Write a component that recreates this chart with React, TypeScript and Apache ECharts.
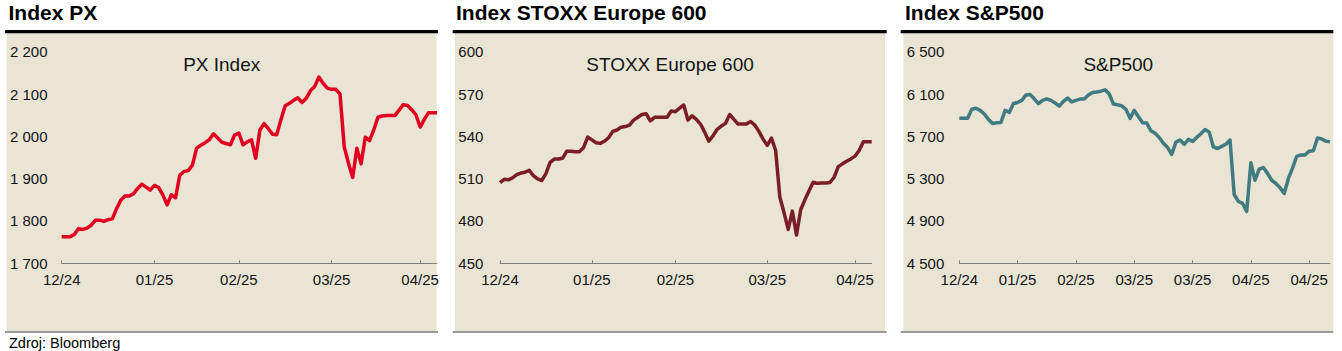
import React, { useEffect, useRef } from "react";
import * as echarts from "echarts";

// ---- data ----
const days = Array.from({ length: 90 }, (_, i) => String(i));

const pxValues = [
  1763, 1763, 1763, 1768, 1782, 1780, 1783, 1790, 1802, 1802,
  1799, 1803, 1805, 1829, 1849, 1859, 1859, 1864, 1877, 1887,
  1880, 1873, 1884, 1879, 1861, 1838, 1862, 1855, 1908, 1917,
  1919, 1932, 1972, 1979, 1985, 1992, 2006, 1996, 1986, 1983,
  1980, 2003, 2008, 1980, 1987, 1992, 1948, 2015, 2030, 2018,
  2005, 2004, 2040, 2072, 2078, 2085, 2091, 2080, 2090, 2108,
  2118, 2140, 2125, 2114, 2111, 2111, 2100, 1975, 1937, 1903,
  1972, 1935, 1998, 1990, 2015, 2045, 2048, 2049, 2049, 2049,
  2062, 2075, 2073, 2063, 2051, 2022, 2040, 2056, 2056, 2056,
];

const stoxxValues = [
  507.2, 509.5, 509.2, 510.5, 512.8, 514, 514.5, 516, 512.1, 509.8,
  508.7, 513.6, 521.5, 523.9, 524, 524.5, 529.5, 529.5, 529.1, 529.1,
  532, 539.5, 537.5, 535.5, 535, 536.5, 539, 543.5, 544.5, 546.5,
  546.9, 548, 551.5, 553.5, 555.5, 556, 551, 553.5, 553.5, 553.5,
  553.5, 558, 557.5, 560, 562.2, 551.5, 554.6, 552, 548.7, 543,
  536.5, 540.3, 545, 547.3, 549.2, 555.5, 552, 548.7, 548.7, 548.7,
  550.5, 548, 543.5, 538, 533.6, 538.8, 530, 497, 486, 474,
  487, 470, 488, 495, 501.5, 507.5, 506.7, 506.9, 507, 507.3,
  511, 518.5, 520.5, 522.3, 524, 526, 530, 536.2, 536.2, 536.2,
];

const spValues = [
  5870, 5870, 5870, 5956, 5965, 5945, 5911, 5860, 5822, 5829,
  5831, 5945, 5925, 6010, 6020, 6040, 6090, 6095, 6055, 6010,
  6040, 6055, 6040, 6015, 5985, 6030, 6062, 6025, 6040, 6052,
  6052, 6090, 6115, 6120, 6127, 6140, 6100, 6005, 5998, 5988,
  5955, 5870, 5945, 5887, 5828, 5825, 5753, 5730, 5690, 5635,
  5595, 5530, 5645, 5665, 5625, 5672, 5652, 5690, 5725, 5765,
  5740, 5600, 5585, 5605, 5625, 5665, 5150, 5085, 5067, 4990,
  5450, 5285, 5390, 5405, 5350, 5285, 5255, 5215, 5160, 5300,
  5400, 5510, 5524, 5524, 5560, 5564, 5685, 5675, 5655, 5648,
];

const pxTickIndex = [0, 22, 42, 64, 85];
const pxTickLabels = ["12/24", "01/25", "02/25", "03/25", "04/25"];
const stoxxTickIndex = [0, 22, 42, 64, 85];
const stoxxTickLabels = ["12/24", "01/25", "02/25", "03/25", "04/25"];
const spTickIndex = [0, 14, 28, 42, 56, 70, 84];
const spTickLabels = ["12/24", "01/25", "02/25", "03/25", "03/25", "04/25", "04/25"];

const pxY = { min: 1700, max: 2200, step: 100 };
const stoxxY = { min: 450, max: 600, step: 30 };
const spY = { min: 4500, max: 6500, step: 400 };

const panelTitles = ["Index PX", "Index STOXX Europe 600", "Index S&P500"];
const innerTitles = ["PX Index", "STOXX Europe 600", "S&P500"];
const sourceText = "Zdroj: Bloomberg";

// ---- styling / layout ----
const FONT = "'Liberation Sans', Arial, Helvetica, sans-serif";
const TEXT = "#141414";
const BEIGE = "#E9E4D4";
const AXIS = "#808080";
const lineColors = ["#E1001F", "#7B1D24", "#3F7B81"];

const panels = [
  { barX: 5, barW: 433, bgX: 6.7, bgW: 430, titleX: 8.5, gridLeft: 61.7, gridW: 375.3, labelLeft: 10 },
  { barX: 452.7, barW: 434, bgX: 455, bgW: 430, titleX: 456, gridLeft: 500, gridW: 371.7, labelLeft: 458.3 },
  { barX: 900.7, barW: 432.6, bgX: 903.3, bgW: 430, titleX: 905, gridLeft: 959.3, gridW: 370.7, labelLeft: 906.7 },
];
const GRID_TOP = 51.7;
const GRID_H = 211.6;

const fmt = (v: number) => String(v).replace(/\B(?=(\d{3})+(?!\d))/g, " ");

export default function App() {
  const ref = useRef<HTMLDivElement>(null);

  useEffect(() => {
    if (!ref.current) return;
    const chart = echarts.init(ref.current, undefined, { renderer: "svg" });

    const seriesData = [pxValues, stoxxValues, spValues];
    const tickIdx = [pxTickIndex, stoxxTickIndex, spTickIndex];
    const tickLbl = [pxTickLabels, stoxxTickLabels, spTickLabels];
    const yRanges = [pxY, stoxxY, spY];

    const graphic: any[] = [];
    panels.forEach((p, i) => {
      graphic.push({
        type: "rect",
        z: -10,
        shape: { x: p.bgX, y: 33, width: p.bgW, height: 298 },
        style: { fill: BEIGE },
        silent: true,
      });
      graphic.push({
        type: "rect",
        z: -9,
        shape: { x: p.barX, y: 30, width: p.barW, height: 3.3 },
        style: { fill: "#000000" },
        silent: true,
      });
      graphic.push({
        type: "rect",
        z: -9,
        shape: { x: p.barX, y: 331, width: p.barW, height: 2 },
        style: { fill: "#9a9a9a" },
        silent: true,
      });
      graphic.push({
        type: "text",
        z: 10,
        x: p.titleX,
        y: 12.5,
        style: {
          text: panelTitles[i],
          fontFamily: FONT,
          fontSize: 21,
          fontWeight: "bold",
          fill: "#000000",
          textVerticalAlign: "middle",
          textAlign: "left",
        },
      });
      graphic.push({
        type: "text",
        z: 10,
        x: p.bgX + p.bgW / 2,
        y: 64,
        style: {
          text: innerTitles[i],
          fontFamily: FONT,
          fontSize: 19,
          fill: TEXT,
          textVerticalAlign: "middle",
          textAlign: "center",
        },
      });
    });
    graphic.push({
      type: "text",
      z: 10,
      x: 9,
      y: 342.5,
      style: {
        text: sourceText,
        fontFamily: FONT,
        fontSize: 14.5,
        fill: "#000000",
        textVerticalAlign: "middle",
        textAlign: "left",
      },
    });

    const option: any = {
      animation: false,
      backgroundColor: "#ffffff",
      graphic,
      grid: panels.map((p) => ({
        left: p.gridLeft,
        width: p.gridW,
        top: GRID_TOP,
        height: GRID_H,
        containLabel: false,
      })),
      xAxis: panels.map((p, i) => ({
        gridIndex: i,
        type: "category",
        data: days,
        boundaryGap: false,
        axisLine: { show: true, lineStyle: { color: AXIS, width: 1 } },
        axisTick: {
          show: true,
          inside: true,
          length: 3,
          interval: (idx: number) => tickIdx[i].includes(idx),
          lineStyle: { color: AXIS, width: 1 },
        },
        axisLabel: {
          interval: (idx: number) => tickIdx[i].includes(idx),
          formatter: (val: string) => {
            const k = tickIdx[i].indexOf(Number(val));
            return k >= 0 ? tickLbl[i][k] : "";
          },
          margin: 9,
          fontSize: 15,
          fontFamily: FONT,
          color: TEXT,
        },
        splitLine: { show: false },
      })),
      yAxis: panels.map((p, i) => ({
        gridIndex: i,
        type: "value",
        min: yRanges[i].min,
        max: yRanges[i].max,
        interval: yRanges[i].step,
        axisLine: { show: false },
        axisTick: { show: false },
        splitLine: { show: false },
        axisLabel: {
          align: "left",
          margin: p.gridLeft - p.labelLeft,
          fontSize: 15,
          fontFamily: FONT,
          color: TEXT,
          formatter: (v: number) => fmt(v),
        },
      })),
      series: seriesData.map((d, i) => ({
        type: "line",
        xAxisIndex: i,
        yAxisIndex: i,
        data: d,
        showSymbol: false,
        symbol: "none",
        silent: true,
        lineStyle: { color: lineColors[i], width: 3.5, join: "round" },
        z: 3,
      })),
    };

    chart.setOption(option);
    return () => chart.dispose();
  }, []);

  return (
    <div
      ref={ref}
      style={{ position: "fixed", left: 0, top: 0, width: 1342, height: 351, background: "#fff" }}
    />
  );
}
